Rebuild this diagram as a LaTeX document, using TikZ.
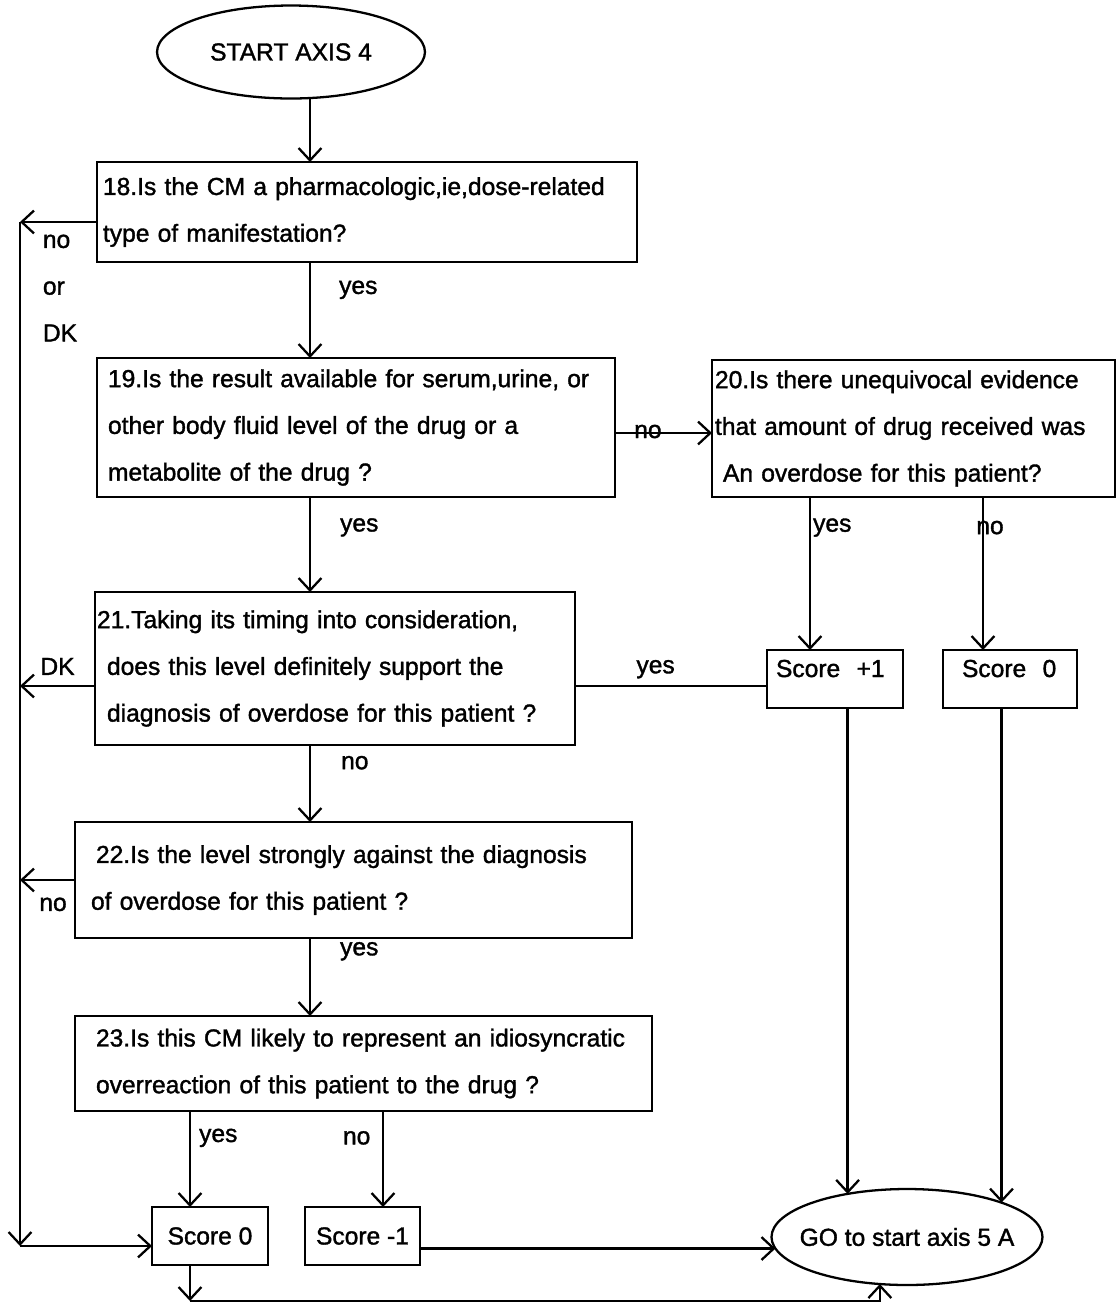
\documentclass[tikz,border=0pt]{standalone}
\usepackage{fontspec}
\setmainfont{Liberation Sans}[FakeBold=1.4]
\usetikzlibrary{arrows.meta,shapes.geometric}
\tikzset{
  >={Straight Barb[length=7pt,width=13pt]},
  qbox/.style={draw,line width=1.2pt,anchor=north west,align=left,inner ysep=0pt,outer sep=0pt},
  scorebox/.style={draw,line width=1.2pt,anchor=north west,inner ysep=0pt,outer sep=0pt,minimum height=1.16cm},
  term/.style={draw,ellipse,line width=1.3pt,inner ysep=0pt,outer sep=0pt},
  lab/.style={inner sep=0pt},
  flow/.style={->,line width=1.3pt},
  link/.style={line width=1.3pt}
}

\begin{document}
\begin{tikzpicture}[x=0.02cm,y=-0.02cm, every node/.style={font=\fontsize{14}{26.6}\selectfont}]
  \useasboundingbox (0,0) rectangle (1120,1303);

  %--- Terminals ---------------------------------------------------------------
  \node[term,inner xsep=0pt,minimum width=5.36cm,minimum height=1.86cm] (start) at (291,52) {START AXIS 4};
  \node[term,inner xsep=-0.23cm,minimum width=5.36cm,minimum height=1.92cm] (go) at (907,1237) {GO to start axis 5 A};

  %--- Questions ---------------------------------------------------------------
  \node[qbox,minimum height=2cm,inner xsep=0.12cm,text width=10.56cm] (b18) at (97,162)
    {18.Is the CM a pharmacologic,ie,dose-related\\type of manifestation?};
  \node[qbox,minimum height=2.78cm,inner xsep=0.22cm,text width=9.92cm] (b19) at (97,358)
    {19.Is the result available for serum,urine, or\\other body fluid level of the drug or a\\metabolite of the drug ?};
  \node[qbox,minimum height=2.74cm,inner xsep=0.06cm,text width=7.94cm] (b20) at (712,360)
    {20.Is there unequivocal evidence\\that amount of drug received was\\\hspace*{0.16cm}An overdose for this patient?};
  \node[qbox,minimum height=3.06cm,inner xsep=0.04cm,text width=9.52cm] (b21) at (95,592)
    {21.Taking its timing into consideration,\\\hspace*{0.2cm}does this level definitely support the\\\hspace*{0.2cm}diagnosis of overdose for this patient ?};
  \node[qbox,minimum height=2.32cm,inner xsep=0.32cm,text width=10.5cm] (b22) at (75,822)
    {\hspace*{0.1cm}22.Is the level strongly against the diagnosis\\of overdose for this patient ?};
  \node[qbox,minimum height=1.9cm,inner xsep=0.42cm,text width=10.7cm] (b23) at (75,1016)
    {23.Is this CM likely to represent an idiosyncratic\\overreaction of this patient to the drug ?};

  %--- Scores ------------------------------------------------------------------
  \node[scorebox,minimum width=2.72cm,inner xsep=0.18cm,text width=2.36cm,align=left,
        text height=0.54cm,text depth=0.62cm] (sp1) at (767,650) {Score~~+1};
  \node[scorebox,minimum width=2.68cm,inner xsep=0.38cm,text width=1.92cm,align=left,
        text height=0.54cm,text depth=0.62cm] (sr0) at (943,650) {Score~~0};
  \node[scorebox,minimum width=2.32cm] (s0l) at (152,1207) {Score 0};
  \node[scorebox,minimum width=2.3cm] (s1) at (305,1207) {Score -1};

  %--- Helper coordinates ------------------------------------------------------
  \coordinate (mx) at (310,0);
  \coordinate (lx) at (20,0);
  \coordinate (yx) at (190,0);
  \coordinate (nx) at (383,0);
  \coordinate (ny) at (0,433);
  \coordinate (ky) at (0,686);
  \coordinate (cy) at (0,1246);
  \coordinate (bot) at (0,1301);
  \coordinate (t18) at ([yshift=-0.2cm]b18.west);

  %--- Main column -------------------------------------------------------------
  \draw[flow] (mx |- start.south) -- (mx |- b18.north);
  \draw[flow] (mx |- b18.south) -- node[lab,right=0.56cm,pos=0.29] {yes} (mx |- b19.north);
  \draw[flow] (mx |- b19.south) -- node[lab,right=0.58cm,pos=0.32] {yes} (mx |- b21.north);
  \draw[flow] (mx |- b21.south) -- node[lab,right=0.6cm,pos=0.23] {no} (mx |- b22.north);
  \draw[flow] (mx |- b22.south) -- node[lab,right=0.58cm,pos=0.17] {yes} (mx |- b23.north);
  \draw[flow] (yx |- b23.south) -- node[lab,right=0.16cm,pos=0.28] {yes} (yx |- s0l.north);
  \draw[flow] (nx |- b23.south) -- node[lab,left=0.23cm,pos=0.28] {no} (nx |- s1.north);

  %--- Right branch ------------------------------------------------------------
  \draw[flow] (b19.east |- ny) -- node[lab,pos=0.34,yshift=0.03cm] {no} (b20.west |- ny);
  \draw[flow] (b20.south -| sp1.north) ++(-25,0) coordinate (py) -- node[lab,right=0.04cm,pos=0.2] {yes} (py |- sp1.north);
  \draw[flow] (b20.south -| sr0.north) ++(-27,0) coordinate (qy) -- node[lab,xshift=0.14cm,pos=0.2] {no} (qy |- sr0.north);
  \draw[link] (b21.east |- ky) -- node[lab,above=0.13cm,pos=0.42] {yes} (sp1.west |- ky);
  \draw[flow] (sp1.south -| go.144) -- (go.144);
  \draw[flow] (sr0.south -| go.20) -- (go.20);

  %--- Left return line --------------------------------------------------------
  \draw[flow] (t18) -- (lx |- t18);
  \node[lab,align=left] (nok) at (60,288) {no\\or\\DK};
  \draw[flow] (b21.west |- ky) -- node[lab,above=0.2cm] {DK} (lx |- ky);
  \draw[flow] (b22.west) -- node[lab,below=0.33cm,pos=0.4] {no} (lx |- b22.west);
  \draw[flow] (lx |- t18) -- (lx |- cy);
  \draw[flow] (lx |- cy) -- (s0l.west |- cy);

  %--- To axis 5 ---------------------------------------------------------------
  \draw[flow] (s1.east |- go.185) -- (go.185);
  \draw[flow] (yx |- s0l.south) -- (yx |- bot);
  \draw[flow] (yx |- bot) -- (go.240 |- bot) -- (go.240);

\end{tikzpicture}
\end{document}
